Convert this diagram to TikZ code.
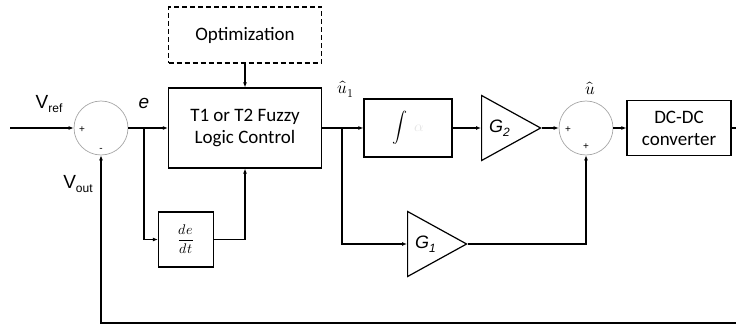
\documentclass[tikz,border=0pt]{standalone}
\usepackage{amsmath}
\usepackage{fontspec}
\usepackage{unicode-math}
\setmainfont{Carlito}
\setmathfont{Latin Modern Math}
\newfontfamily\arialfont{Liberation Sans}
\usetikzlibrary{arrows.meta, positioning, shapes.geometric}
\newcommand{\lowidx}[1]{\raisebox{-0.45ex}{\fontsize{12}{12}\selectfont #1}}

\begin{document}
\begin{tikzpicture}[x=1pt, y=-1pt, >={Latex[length=5pt,width=4pt]},
  blk/.style={draw, line width=1.2pt, inner sep=0pt, align=center,
    font=\fontsize{19}{22}\selectfont},
  sumnode/.style={draw=gray!70, line width=0.7pt, circle,
    minimum size=54pt, inner sep=0pt},
  gain/.style={draw, line width=1.2pt, isosceles triangle,
    isosceles triangle stretches, minimum width=65pt, minimum height=59pt,
    inner sep=0pt, font=\arialfont\itshape\fontsize{18}{20}\selectfont},
  wire/.style={line width=1.2pt},
  sign/.style={font=\arialfont\fontsize{10}{10}\selectfont, inner sep=0pt},
  lbl/.style={font=\arialfont\fontsize{19}{20}\selectfont, inner sep=0pt}]

  \useasboundingbox (0,0) rectangle (736,326);

  % --- blocks ---
  \node[sumnode] (sum1) at (101,128) {};
  \node[blk, minimum width=153pt, minimum height=80pt] (flc) at (245,128)
    {T1 or T2 Fuzzy\\Logic Control};
  \node[blk, dash pattern=on 5pt off 3pt, minimum width=153pt,
    minimum height=56pt] (opt) at (245,35) {Optimization};
  \node[blk, minimum width=55pt, minimum height=55pt] (dedt) at (186,239.5)
    {\fontsize{14}{17}\selectfont$\dfrac{de}{dt}$};
  \node[blk, minimum width=88pt, minimum height=58pt] (integ) at (408,128)
    {\fontsize{15}{17}\selectfont$\displaystyle\int\;{\color{gray!20}\alpha}$};
  \node[gain, anchor=lower side] (g2) at (481,128) {G\lowidx{2}};
  \node[sumnode] (sum2) at (586,128) {};
  \node[blk, minimum width=104pt, minimum height=55pt] (dcdc) at (679,128)
    {DC-DC\\converter};
  \node[gain, anchor=lower side] (g1) at (407,244) {G\lowidx{\itshape 1}};

  % --- free ends and branch points ---
  \coordinate (vin) at (10,128);
  \coordinate (ebr) at (144,128);
  \coordinate (ubr) at (342,128);
  \coordinate (dcout) at (736,128);
  \coordinate (fbin) at (736,323);

  % --- signals ---
  \draw[wire,->] (vin) -- (sum1.west);
  \draw[wire,->] (sum1.east) -- (flc.west);
  \draw[wire,->] (ebr) |- (dedt.west);
  \draw[wire,->] (dedt.east) -| (flc.south);
  \draw[wire,->] (opt.south) -- (flc.north);
  \draw[wire,->] (flc.east) -- (integ.west);
  \draw[wire,->] (ubr) |- (g1.lower side);
  \draw[wire,->] (integ.east) -- (g2.lower side);
  \draw[wire,->] (g2.apex) -- (sum2.west);
  \draw[wire,->] (g1.apex) -| (sum2.south);
  \draw[wire,->] (sum2.east) -- (dcdc.west);
  \draw[wire] (dcdc.east) -- (dcout);
  \draw[wire,->, line width=1.5pt] (fbin) -| (sum1.south);

  % --- signs ---
  \node[sign] (p1) at (82,130) {+};
  \node[sign] (m1) at (101,150) {-};
  \node[sign] (p2) at (568,130) {+};
  \node[sign] (p3) at (586,147) {+};

  % --- labels ---
  \node[lbl] (vref) at (49,104) {V\lowidx{ref}};
  \node[lbl] (vout) at (78,184) {V\lowidx{out}};
  \node[lbl, font=\arialfont\itshape\fontsize{19}{20}\selectfont] (elbl) at (144,103) {e};
  \node[inner sep=0pt, font=\fontsize{17}{19}\selectfont] (u1lbl) at (346,89) {$\hat{u}_1$};
  \node[inner sep=0pt, font=\fontsize{17}{19}\selectfont] (ulbl) at (590,88) {$\hat{u}$};

\end{tikzpicture}
\end{document}
